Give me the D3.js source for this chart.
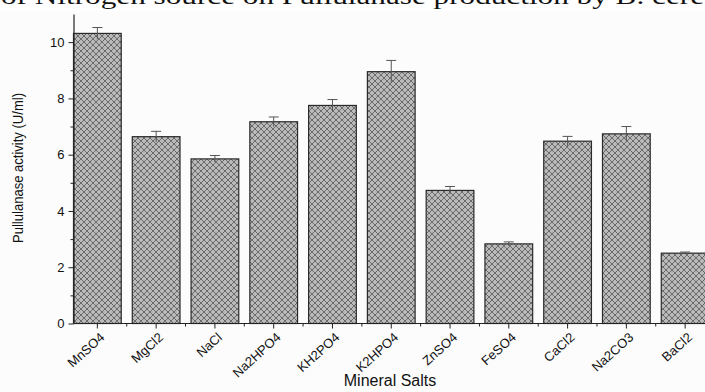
<!DOCTYPE html>
<html>
<head>
<meta charset="utf-8">
<script src="https://cdn.jsdelivr.net/npm/d3@7"></script>
<style>
  body { margin: 0; background: #fcfcfc; }
  svg { display: block; font-family: "Liberation Sans", Arial, sans-serif; }
</style>
</head>
<body>
<div id="my_dataviz"></div>
<script>
// data
var salts = ["MnSO4", "MgCl2", "NaCl", "Na2HPO4", "KH2PO4", "K2HPO4", "ZnSO4", "FeSO4", "CaCl2", "Na2CO3", "BaCl2"]
var activity = [10.31, 6.64, 5.85, 7.17, 7.75, 8.95, 4.73, 2.83, 6.48, 6.74, 2.50]
var errors = [0.21, 0.19, 0.12, 0.17, 0.21, 0.40, 0.14, 0.07, 0.17, 0.26, 0.04]
var yTicks = [0, 2, 4, 6, 8, 10]

var width = 705,
    height = 392

var svg = d3.select("#my_dataviz")
  .append("svg")
    .attr("width", width)
    .attr("height", height)

// cut-off caption line from the page above the figure
svg.append("rect").attr("x", 0).attr("y", 0).attr("width", width).attr("height", 11).attr("fill", "#ffffff")
svg.append("text")
  .attr("x", 1).attr("y", 4)
  .attr("textLength", 703).attr("lengthAdjust", "spacingAndGlyphs")
  .style("font-family", "'Liberation Serif', 'DejaVu Serif', serif")
  .style("font-size", "23px")
  .attr("fill", "#111")
  .text("of Nitrogen source on Pullulanase production by B. cere")

// crosshatch pattern for the bars
var defs = svg.append("defs")
var pat = defs.append("pattern")
  .attr("id", "hatch")
  .attr("patternUnits", "userSpaceOnUse")
  .attr("width", 6).attr("height", 6)
pat.append("rect").attr("width", 6).attr("height", 6).attr("fill", "#bababa")
pat.append("path").attr("d", "M0,0 L6,6 M-1,5 L1,7 M5,-1 L7,1").attr("stroke", "#505050").attr("stroke-width", 0.75)
pat.append("path").attr("d", "M0,6 L6,0 M-1,1 L1,-1 M5,7 L7,5").attr("stroke", "#505050").attr("stroke-width", 0.75)

var x = d3.scaleBand()
  .domain(salts)
  .range([73.5, 709])
  .paddingInner(0.188)
  .paddingOuter(0)

var y = d3.scaleLinear()
  .domain([0, 11])
  .range([323.5, 14])

// bars
svg.selectAll("rect.bar")
  .data(salts)
  .enter()
  .append("rect")
    .attr("class", "bar")
    .attr("x", function(d) { return x(d) })
    .attr("y", function(d, i) { return y(activity[i]) })
    .attr("width", x.bandwidth())
    .attr("height", function(d, i) { return y(0) - y(activity[i]) })
    .attr("fill", "url(#hatch)")
    .attr("stroke", "#2a2a2a")
    .attr("stroke-width", 1.2)

// error bars
var eb = svg.selectAll("g.err")
  .data(salts)
  .enter()
  .append("g")
    .attr("class", "err")
    .attr("stroke", "#555")
    .attr("stroke-width", 1)
eb.append("line")
  .attr("x1", function(d) { return x(d) + x.bandwidth() / 2 })
  .attr("x2", function(d) { return x(d) + x.bandwidth() / 2 })
  .attr("y1", function(d, i) { return y(activity[i] - errors[i]) })
  .attr("y2", function(d, i) { return y(activity[i] + errors[i]) })
eb.append("line")
  .attr("x1", function(d) { return x(d) + x.bandwidth() / 2 - 5 })
  .attr("x2", function(d) { return x(d) + x.bandwidth() / 2 + 5 })
  .attr("y1", function(d, i) { return y(activity[i] + errors[i]) })
  .attr("y2", function(d, i) { return y(activity[i] + errors[i]) })

// y axis
var yAxis = svg.append("g")
  .attr("transform", "translate(73.5,0)")
  .call(d3.axisLeft(y).tickValues(yTicks).tickSize(5).tickPadding(4).tickSizeOuter(0))
yAxis.select(".domain").attr("stroke", "#222").attr("stroke-width", 1.2)
yAxis.selectAll(".tick line").attr("stroke", "#222")
yAxis.selectAll(".tick text").style("font-size", "13px").attr("fill", "#111")
svg.append("g")
  .attr("transform", "translate(73.5,0)")
  .call(d3.axisLeft(y).tickValues(d3.range(1, 11, 2)).tickSize(3).tickFormat(""))
  .call(function(g) { g.select(".domain").remove() })
  .selectAll(".tick line").attr("stroke", "#222")

// x axis
var xAxis = svg.append("g")
  .attr("transform", "translate(0,323.5)")
  .call(d3.axisBottom(x).tickSize(5).tickSizeOuter(0))
xAxis.select(".domain").attr("d", "M73.5,0H705").attr("stroke", "#222").attr("stroke-width", 1.2)
xAxis.selectAll(".tick line").attr("stroke", "#222")
xAxis.selectAll(".tick text")
  .style("font-size", "13px")
  .attr("fill", "#111")
  .style("text-anchor", "end")
  .attr("dy", null)
  .attr("y", 0)
  .attr("transform", "translate(8,15) rotate(-42)")

// minor ticks between bars
var gap = x.step() - x.bandwidth()
svg.append("g")
  .selectAll("line")
  .data(salts.slice(1))
  .enter()
  .append("line")
    .attr("x1", function(d) { return x(d) - gap / 2 })
    .attr("x2", function(d) { return x(d) - gap / 2 })
    .attr("y1", 323.5)
    .attr("y2", 326.5)
    .attr("stroke", "#222")

// axis titles
svg.append("text")
  .attr("transform", "translate(23,168) rotate(-90)")
  .attr("text-anchor", "middle")
  .attr("textLength", 150).attr("lengthAdjust", "spacingAndGlyphs")
  .style("font-size", "15px")
  .attr("fill", "#111")
  .text("Pullulanase activity (U/ml)")

svg.append("text")
  .attr("x", 390).attr("y", 386)
  .attr("text-anchor", "middle")
  .style("font-size", "16px")
  .attr("fill", "#111")
  .text("Mineral Salts")
</script>
</body>
</html>
